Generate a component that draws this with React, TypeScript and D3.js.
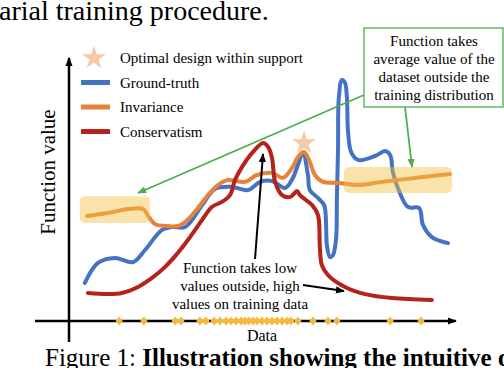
import React, { useRef, useEffect } from "react";
import * as d3 from "d3";

// curves (x: data axis 0-100, y: function value 0-100)
const groundTruth: [number, number][] = [
  [4.1, 14.4], [7.5, 22.0], [11.9, 23.9], [16.6, 22.3], [19.7, 26.9], [24.1, 34.5],
  [26.7, 35.6], [30.1, 35.6], [34.5, 43.9], [37.8, 50.0], [42.2, 50.8], [46.4, 49.6],
  [49.5, 52.7], [52.6, 53.0], [56.0, 50.4], [58.0, 54.2], [59.3, 59.1], [60.6, 63.6],
  [61.9, 55.3], [62.4, 49.6], [64.5, 46.6], [66.1, 43.9], [66.6, 36.4], [66.8, 28.8],
  [67.6, 24.2], [68.4, 25.0], [69.2, 31.4], [69.4, 46.6], [69.7, 65.5], [69.9, 84.5],
  [70.7, 91.3], [71.5, 90.2], [72.0, 84.5], [72.3, 71.6], [73.1, 64.0], [74.9, 61.0],
  [79.3, 62.5], [81.9, 64.4], [83.2, 62.9], [83.9, 56.4], [85.2, 50.4], [87.8, 43.2],
  [90.7, 42.8], [91.7, 36.4], [94.0, 31.8], [98.2, 29.5],
];

const invariance: [number, number][] = [
  [4.7, 39.8], [10.1, 40.9], [15.3, 42.4], [19.2, 42.4], [20.5, 39.8], [22.3, 36.7],
  [24.9, 36.0], [28.2, 36.0], [30.1, 37.5], [33.2, 42.4], [36.0, 47.7], [38.6, 51.5],
  [41.2, 53.4], [45.6, 52.7], [48.7, 55.3], [52.6, 56.1], [55.4, 54.2], [57.8, 58.0],
  [59.3, 62.1], [60.9, 64.0], [62.4, 60.2], [63.7, 55.3], [65.8, 52.7], [69.7, 52.3],
  [74.9, 51.5], [81.1, 52.7], [89.6, 54.2], [98.7, 55.7],
];

const conservatism: [number, number][] = [
  [4.9, 10.6], [10.1, 10.2], [13.7, 10.6], [17.9, 12.9], [21.5, 16.3], [24.9, 20.5],
  [28.2, 25.8], [30.8, 30.7], [34.5, 38.3], [37.0, 43.2], [39.6, 45.1], [41.7, 47.7],
  [43.0, 53.4], [44.8, 58.3], [47.4, 63.6], [50.3, 67.4], [51.6, 65.9], [52.6, 61.7],
  [53.4, 52.7], [55.2, 47.7], [57.3, 47.0], [59.1, 49.2], [59.8, 47.7], [63.0, 43.9],
  [64.5, 40.2], [65.0, 27.7], [65.5, 21.2], [67.1, 17.4], [71.5, 12.9], [76.7, 10.2],
  [83.7, 8.7], [94.0, 8.0],
];

// training points on the data axis
const trainingX = [
  13.0, 19.4, 27.5, 29.0, 33.9, 35.5, 37.6, 39.1, 40.7, 42.0, 43.3, 44.6, 45.6, 46.6,
  47.7, 48.7, 50.0, 51.3, 52.6, 53.9, 55.2, 56.5, 57.5, 59.3, 63.2, 67.1, 69.4, 83.2, 91.2,
];

const optimal: [number, number] = [60.9, 67.4];

// shaded "outside the training distribution" regions [x0, x1, y0, y1]
const shadedRegions: [number, number, number, number][] = [
  [2.8, 21.0, 37.1, 47.3],
  [71.2, 99.2, 48.5, 58.3],
];

const legendLabels = ["Optimal design within support", "Ground-truth", "Invariance", "Conservatism"];
const boxLines = ["Function takes", "average value of the", "dataset outside the", "training distribution"];
const lowLines = ["Function takes low", "values outside, high", "values on training data"];

const BLUE = "#4472c4";
const ORANGE = "#e8823a";
const RED = "#b5231d";
const GREEN = "#4cae4c";
const STAR = "#f6c9a8";
const GOLD = "#f4b93a";
const FONT = "'Liberation Serif', 'Times New Roman', serif";

const App = () => {
  const ref = useRef<SVGSVGElement>(null);

  useEffect(() => {
    const svg = d3.select(ref.current);
    svg.selectAll("*").remove();

    const x = d3.scaleLinear().domain([0, 100]).range([69, 455]);
    const y = d3.scaleLinear().domain([0, 100]).range([321, 57]);

    const defs = svg.append("defs");
    const marker = (id: string, color: string, size: number) =>
      defs
        .append("marker")
        .attr("id", id)
        .attr("viewBox", "0 0 10 10")
        .attr("refX", 9)
        .attr("refY", 5)
        .attr("markerWidth", size)
        .attr("markerHeight", size)
        .attr("markerUnits", "userSpaceOnUse")
        .attr("orient", "auto")
        .append("path")
        .attr("d", "M0,1 L10,5 L0,9 Z")
        .attr("fill", color);
    marker("arrBlack", "#000", 9);
    marker("arrGreen", GREEN, 9);
    marker("arrAxis", "#000", 9);

    // caption text around the figure
    svg.append("text")
      .attr("x", -1).attr("y", 20)
      .attr("font-family", FONT).attr("font-size", 28)
      .text("arial training procedure.");
    const cap = svg.append("text")
      .attr("x", 45).attr("y", 366)
      .attr("font-family", FONT).attr("font-size", 25);
    cap.append("tspan").text("Figure 1: ");
    cap.append("tspan").attr("font-weight", "bold").text("Illustration showing the intuitive difference");

    // axes
    svg.append("line")
      .attr("x1", 69).attr("y1", 342).attr("x2", 69).attr("y2", 58)
      .attr("stroke", "#000").attr("stroke-width", 2.5)
      .attr("marker-end", "url(#arrAxis)");
    svg.append("line")
      .attr("x1", 35).attr("y1", 321).attr("x2", 456).attr("y2", 321)
      .attr("stroke", "#000").attr("stroke-width", 2.5)
      .attr("marker-end", "url(#arrAxis)");

    svg.append("text")
      .attr("transform", "translate(55,172) rotate(-90)")
      .attr("text-anchor", "middle")
      .attr("font-family", FONT).attr("font-size", 21)
      .text("Function value");
    svg.append("text")
      .attr("x", 262).attr("y", 341)
      .attr("text-anchor", "middle")
      .attr("font-family", FONT).attr("font-size", 16)
      .text("Data");

    // curves
    const line = d3.line<[number, number]>()
      .x((d) => x(d[0]))
      .y((d) => y(d[1]))
      .curve(d3.curveCatmullRom.alpha(0.5));

    [
      [groundTruth, BLUE],
      [invariance, ORANGE],
      [conservatism, RED],
    ].forEach(([data, color]) => {
      svg.append("path")
        .datum(data as [number, number][])
        .attr("d", line)
        .attr("fill", "none")
        .attr("stroke", color as string)
        .attr("stroke-width", 4)
        .attr("stroke-linejoin", "round")
        .attr("stroke-linecap", "round");
    });

    // shaded regions drawn over the curves
    svg.selectAll(".shade")
      .data(shadedRegions)
      .enter()
      .append("rect")
      .attr("x", (d) => x(d[0]))
      .attr("y", (d) => y(d[3]))
      .attr("width", (d) => x(d[1]) - x(d[0]))
      .attr("height", (d) => y(d[2]) - y(d[3]))
      .attr("rx", 5)
      .attr("fill", "#f5c242")
      .attr("fill-opacity", 0.45);

    // training points (rotated squares, a bit taller than wide)
    const square = d3.symbol().type(d3.symbolSquare).size(30);
    svg.selectAll(".pt")
      .data(trainingX)
      .enter()
      .append("path")
      .attr("d", square)
      .attr("transform", (d) => `translate(${x(d)},321) scale(0.95,1.15) rotate(45)`)
      .attr("fill", GOLD);

    // optimal star
    const star = d3.symbol().type(d3.symbolStar).size(175);
    svg.append("path")
      .attr("d", star)
      .attr("transform", `translate(${x(optimal[0])},${y(optimal[1])})`)
      .attr("fill", STAR);

    // green annotation
    svg.append("line")
      .attr("x1", 364).attr("y1", 95).attr("x2", 138).attr("y2", 193)
      .attr("stroke", GREEN).attr("stroke-width", 1.8)
      .attr("marker-end", "url(#arrGreen)");
    svg.append("line")
      .attr("x1", 405).attr("y1", 107).attr("x2", 412).attr("y2", 167)
      .attr("stroke", GREEN).attr("stroke-width", 1.8)
      .attr("marker-end", "url(#arrGreen)");
    svg.append("rect")
      .attr("x", 364).attr("y", 28).attr("width", 139).attr("height", 79)
      .attr("fill", "#fff").attr("stroke", GREEN).attr("stroke-width", 1.3);
    svg.selectAll(".boxline")
      .data(boxLines)
      .enter()
      .append("text")
      .attr("x", 434)
      .attr("y", (d, i) => 46 + i * 18)
      .attr("text-anchor", "middle")
      .attr("font-family", FONT).attr("font-size", 15)
      .text((d) => d);

    // black annotation
    svg.append("line")
      .attr("x1", 255).attr("y1", 259).attr("x2", 263).attr("y2", 154)
      .attr("stroke", "#000").attr("stroke-width", 2)
      .attr("marker-end", "url(#arrBlack)");
    svg.append("line")
      .attr("x1", 303).attr("y1", 285).attr("x2", 344).attr("y2", 291)
      .attr("stroke", "#000").attr("stroke-width", 2)
      .attr("marker-end", "url(#arrBlack)");
    svg.selectAll(".lowline")
      .data(lowLines)
      .enter()
      .append("text")
      .attr("x", 240)
      .attr("y", (d, i) => 273 + i * 18)
      .attr("text-anchor", "middle")
      .attr("font-family", FONT).attr("font-size", 15)
      .text((d) => d);

    // legend
    const legend = svg.append("g").attr("transform", "translate(0,58)");
    legend.append("path")
      .attr("d", star)
      .attr("transform", "translate(94,0)")
      .attr("fill", STAR);
    [BLUE, ORANGE, RED].forEach((c, i) => {
      legend.append("line")
        .attr("x1", 81).attr("x2", 110)
        .attr("y1", (i + 1) * 24.5).attr("y2", (i + 1) * 24.5)
        .attr("stroke", c).attr("stroke-width", 5);
    });
    legend.selectAll(".lg")
      .data(legendLabels)
      .enter()
      .append("text")
      .attr("x", 120)
      .attr("y", (d, i) => i * 24.5 + 5)
      .attr("font-family", FONT).attr("font-size", 15)
      .text((d) => d);
  }, []);

  return (
    <svg
      ref={ref}
      width={504}
      height={368}
      style={{ position: "absolute", left: 0, top: 0, background: "#fff" }}
    />
  );
};

export default App;
